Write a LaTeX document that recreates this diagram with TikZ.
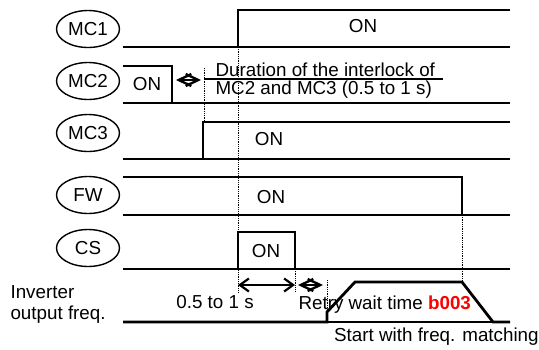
\documentclass[tikz,border=0pt]{standalone}
\usepackage{fontspec}
\setmainfont{Liberation Sans}
\usetikzlibrary{arrows.meta,shapes.geometric}

\tikzset{
  sig/.style={line width=2.8pt},
  base/.style={line width=1.2pt},
  guide/.style={densely dotted,line width=0.8pt},
  tag/.style={draw,ellipse,line width=1.4pt,minimum width=63pt,minimum height=37pt,inner sep=0pt},
  gap/.style={line width=2.4pt,{Straight Barb[length=12.5pt,width=12pt]}-{Straight Barb[length=12.5pt,width=12pt]}}
}

\begin{document}
\begin{tikzpicture}[x=1pt,y=-1pt,>={Straight Barb[length=9pt,width=13pt]},
  font=\fontsize{18.8}{21}\selectfont]
  \useasboundingbox (0,0) rectangle (539,349);
  % signal names
  \node[tag] (mcone) at (88,29) {MC1};
  \node[tag] (mctwo) at (88,81) {MC2};
  \node[tag] (mcthree) at (88,133) {MC3};
  \node[tag] (fw) at (88,195) {FW};
  \node[tag] (cs) at (88,248) {CS};
  \node[anchor=west,align=left] (freq) at (7,304) {Inverter\\output freq.};

  % MC1
  \draw[sig] (123,47) -- (238,47) -- (238,10) -- (510,10);
  \draw[base] (238,47) -- (510,47);
  \node (mconeon) at (363,26) {ON};
  % MC2
  \draw[sig] (123,66) -- (172,66) -- (172,103) -- (510,103);
  \draw[base] (123,103) -- (172,103);
  \node (mctwoon) at (147,84) {ON};
  % MC3
  \draw[sig] (123,159) -- (203,159) -- (203,122) -- (510,122);
  \draw[base] (203,159) -- (510,159);
  \node (mcthreeon) at (269,139) {ON};
  % FW
  \draw[sig] (123,177) -- (462,177) -- (462,215) -- (510,215);
  \draw[base] (123,215) -- (462,215);
  \node (fwon) at (271,197) {ON};
  % CS
  \draw[sig] (123,269) -- (238,269) -- (238,232) -- (295,232) -- (295,269) -- (510,269);
  \draw[base] (238,269) -- (295,269);
  \node (cson) at (266,251) {ON};
  % output frequency
  \draw[sig] (123,322) -- (327,322) -- (327,312) -- (355,282) -- (462,282) -- (493,322) -- (510,322);
  \draw[base] (327,322) -- (493,322);

  % guide lines
  \draw[guide] (238,47) -- (238,292);
  \draw[guide] (204,68) -- (204,122);
  \draw[guide] (295,269) -- (295,292);
  \draw[guide] (327,280) -- (327,322);
  \draw[guide] (462,215) -- (462,282);

  % interlock
  \coordinate (ila) at (176,80);
  \coordinate (ilb) at (201,80);
  \draw[gap] (ila) -- (ilb);
  \draw[base] (204,79) -- (443,79);
  \node[anchor=west] (ilone) at (212,70) {Duration of the interlock of};
  \node[anchor=west] (iltwo) at (212,90) {MC2 and MC3 (0.5 to 1 s)};

  % times
  \coordinate (csa) at (238,285);
  \coordinate (csb) at (295,285);
  \coordinate (rwa) at (298,285);
  \coordinate (rwb) at (323,285);
  \draw[<->,line width=2.2pt] (csa) -- (csb);
  \draw[gap] (rwa) -- (rwb);
  \node (csdur) at (215,302) {0.5 to 1 s};
  \node[anchor=west] (retry) at (295,305) {Retry wait time \textcolor{red}{\textbf{b003}}};
  \node[anchor=west,inner sep=0pt] (match) at (334,337) {Start with freq. matching};
\end{tikzpicture}
\end{document}
